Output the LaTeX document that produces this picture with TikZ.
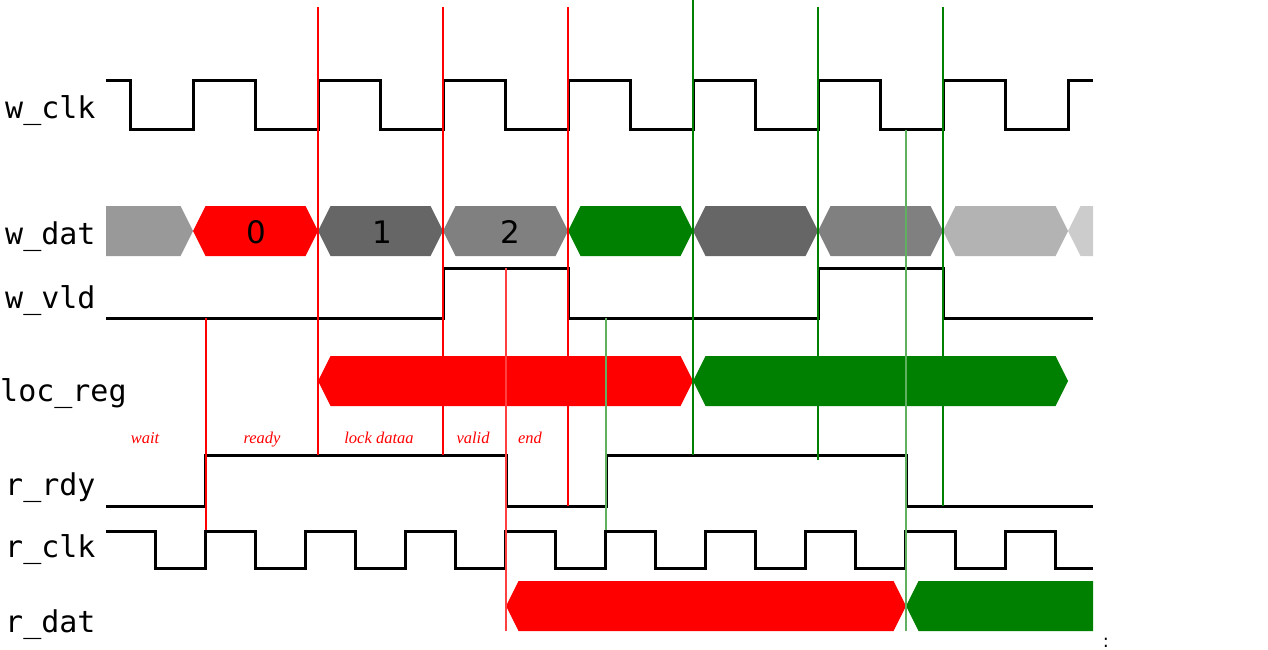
\documentclass[tikz,border=0pt]{standalone}
\usepackage{fontspec}
\newfontfamily\monof{DejaVu Sans Mono}
\newfontfamily\sansf{DejaVu Sans}
\newfontfamily\seriff{Liberation Serif}
\definecolor{gA}{HTML}{999999}
\definecolor{gB}{HTML}{666666}
\definecolor{gC}{HTML}{808080}
\definecolor{gD}{HTML}{B3B3B3}
\definecolor{gE}{HTML}{CCCCCC}
\definecolor{dgreen}{HTML}{008000}
\definecolor{lgreen}{HTML}{5FB05F}
\definecolor{lred}{HTML}{FF4040}
\begin{document}
\begin{tikzpicture}[x=1pt,y=-1pt,
  sig/.style={line width=3pt,black,line join=miter},
  signame/.style={font=\monof\fontsize{30}{30}\selectfont,anchor=base west,inner sep=0pt},
  digit/.style={font=\sansf\fontsize{31}{31}\selectfont,inner sep=0pt},
  phase/.style={font=\seriff\itshape\fontsize{16.5}{16.5}\selectfont,text=red,anchor=base,inner sep=0pt},
  rline/.style={red,line width=1.3pt},
  gline/.style={dgreen,line width=1.3pt},
  rlineL/.style={lred,line width=1.4pt},
  glineL/.style={lgreen,line width=1.6pt}]
\useasboundingbox (0,0) rectangle (1268,650);
% signal names
\node[signame] (nwclk) at (5,119) {w\_clk};
\node[signame] (nwdat) at (5,244) {w\_dat};
\node[signame] (nwvld) at (5,308) {w\_vld};
\node[signame] (nloc) at (0,401) {loc\_reg};
\node[signame] (nrrdy) at (5,495) {r\_rdy};
\node[signame] (nrclk) at (5,557) {r\_clk};
\node[signame] (nrdat) at (5,632) {r\_dat};
% w_dat bus
\fill[gA] (106,206)--(180.5,206)--(193,231)--(180.5,256)--(106,256)--cycle;
\fill[red] (193,231)--(205.5,206)--(305.5,206)--(318,231)--(305.5,256)--(205.5,256)--cycle;
\fill[gB] (318,231)--(330.5,206)--(430.5,206)--(443,231)--(430.5,256)--(330.5,256)--cycle;
\fill[gC] (443,231)--(455.5,206)--(555.5,206)--(568,231)--(555.5,256)--(455.5,256)--cycle;
\fill[dgreen] (568,231)--(580.5,206)--(680.5,206)--(693,231)--(680.5,256)--(580.5,256)--cycle;
\fill[gB] (693,231)--(705.5,206)--(805.5,206)--(818,231)--(805.5,256)--(705.5,256)--cycle;
\fill[gC] (818,231)--(830.5,206)--(930.5,206)--(943,231)--(930.5,256)--(830.5,256)--cycle;
\fill[gD] (943,231)--(955.5,206)--(1055.5,206)--(1068,231)--(1055.5,256)--(955.5,256)--cycle;
\fill[gE] (1068,231)--(1080.5,206)--(1093,206)--(1093,256)--(1080.5,256)--cycle;
\node[digit] (d0) at (256,232) {0};
\node[digit] (d1) at (382,232) {1};
\node[digit] (d2) at (510,232) {2};
% loc_reg bus
\fill[red] (318,381)--(330.5,356)--(680.5,356)--(693,381)--(680.5,406)--(330.5,406)--cycle;
\fill[dgreen] (693,381)--(705.5,356)--(1055.5,356)--(1068,381)--(1055.5,406)--(705.5,406)--cycle;
% r_dat bus
\fill[red] (506,606)--(518.5,581)--(893.5,581)--(906,606)--(893.5,631)--(518.5,631)--cycle;
\fill[dgreen] (906,606)--(918.5,581)--(1093,581)--(1093,631)--(918.5,631)--cycle;
% w_clk
\draw[sig] (106,81) foreach \k in {0,...,7} {-- (130.5+125*\k,81) -- (130.5+125*\k,130) -- (193+125*\k,130) -- (193+125*\k,81)} -- (1093,81);
% w_vld
\draw[sig] (106,318) -- (443,318) -- (443,268) -- (568,268) -- (568,318) -- (818,318) -- (818,268) -- (943,268) -- (943,318) -- (1093,318);
% r_rdy
\draw[sig] (106,506) -- (205.5,506) -- (205.5,455) -- (506,455) -- (506,506) -- (606,506) -- (606,455) -- (906,455) -- (906,506) -- (1093,506);
% r_clk
\draw[sig] (106,531) foreach \k in {0,...,8} {-- (155.5+100*\k,531) -- (155.5+100*\k,568) -- (205.5+100*\k,568) -- (205.5+100*\k,531)} -- (1055.5,531) -- (1055.5,568) -- (1093,568);
% vertical markers
\draw[rline] (318,7) -- (318,455);
\draw[rline] (443,7) -- (443,455);
\draw[rline] (568,7) -- (568,506);
\draw[rline] (206,318) -- (206,530);
\draw[rlineL] (506,268) -- (506,631);
\draw[gline] (693,0) -- (693,455);
\draw[gline] (818,7) -- (818,460);
\draw[gline] (943,7) -- (943,506);
\draw[glineL] (606,318) -- (606,530);
\draw[glineL] (906,130) -- (906,631);
% phase labels
\node[phase] (pwait) at (145,443) {wait};
\node[phase] (pready) at (262,443) {ready};
\node[phase] (plock) at (379,443) {lock dataa};
\node[phase] (pvalid) at (473,443) {valid};
\node[phase] (pend) at (530,443) {end};
\node[font=\sansf\fontsize{18}{18}\selectfont,inner sep=0pt] (colon) at (1106,643) {:};
\end{tikzpicture}
\end{document}
